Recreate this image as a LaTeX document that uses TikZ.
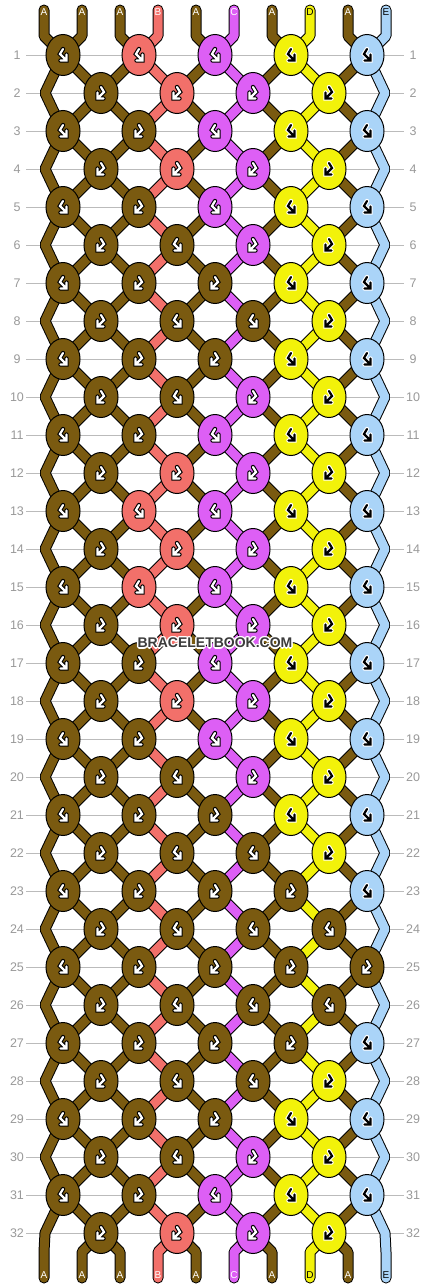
\documentclass[tikz,border=0pt]{standalone}
\usepackage{fontspec}
\setmainfont{Liberation Sans}
\usetikzlibrary{shapes.geometric,calc}
\definecolor{cA}{HTML}{7A5A10}
\definecolor{cB}{HTML}{F2706A}
\definecolor{cC}{HTML}{DD5FF5}
\definecolor{cD}{HTML}{F2F20A}
\definecolor{cE}{HTML}{AAD4F8}
\colorlet{fA}{white}\colorlet{fB}{white}\colorlet{fC}{white}\colorlet{fD}{black}\colorlet{fE}{black}
\colorlet{gA}{black}\colorlet{gB}{black}\colorlet{gC}{black}\colorlet{gD}{white}\colorlet{gE}{white}
\definecolor{gridgray}{HTML}{BBBBBB}
\definecolor{labgray}{HTML}{999999}
\definecolor{wmgray}{HTML}{3C3C3C}
\newcommand\knotrow[2]{%
  \ifodd#1\relax\def\xs{63}\else\def\xs{101}\fi
  \foreach \kc/\kt [count=\k] in {#2} {
    \pgfmathsetmacro\xx{\xs+76*(\k-1)}
    \pgfmathsetmacro\yy{17+38*#1}
    \node[knot, fill=c\kc] (k#1-\k) at (\xx,\yy) {};
    \begin{scope}[shift={(k#1-\k.center)}]
      \if L\kt
        \draw[glbg, draw=g\kc] (0,-6)--(-3,-1)--(3.5,5.5) (-2.5,5.5)--(3.5,5.5)--(3.5,-0.5);
        \draw[glfg, draw=f\kc] (0,-6)--(-3,-1)--(3.5,5.5) (-2.5,5.5)--(3.5,5.5)--(3.5,-0.5);
      \else
        \draw[glbg, draw=g\kc] (0,-6)--(3,-1)--(-3.5,5.5) (2.5,5.5)--(-3.5,5.5)--(-3.5,-0.5);
        \draw[glfg, draw=f\kc] (0,-6)--(3,-1)--(-3.5,5.5) (2.5,5.5)--(-3.5,5.5)--(-3.5,-0.5);
      \fi
    \end{scope}
  }}
\begin{document}
\begin{tikzpicture}[x=1pt,y=-1pt,
  knot/.style={ellipse, draw=black, line width=1pt, minimum width=34pt, minimum height=41pt, inner sep=0pt},
  strout/.style={line width=11pt, draw=black, line join=bevel, line cap=round},
  strin/.style={line width=9pt, line join=bevel, line cap=round},
  glbg/.style={line width=4.4pt, line join=miter, line cap=round},
  glfg/.style={line width=2.2pt, line join=miter, line cap=round},
  rowlab/.style={text=labgray, font=\fontsize{12.5}{14}\selectfont, inner sep=0pt},
  toplab/.style={font=\fontsize{10}{11}\selectfont, inner sep=0pt},
  wm/.style={font=\fontsize{14}{16}\selectfont\bfseries, inner sep=0pt}]
\useasboundingbox (0,0) rectangle (430,1288);
\fill[white] (0,0) rectangle (430,1288);
% grid lines and row labels
\foreach \r in {1,...,32} {
  \coordinate (gl\r) at (26,{17+38*\r});
  \coordinate (gr\r) at (404,{17+38*\r});
  \draw[gridgray, line width=1pt] (gl\r) -- (gr\r);
  \node[rowlab] (ll\r) at (17,{17+38*\r}) {\r};
  \node[rowlab] (rl\r) at (413,{17+38*\r}) {\r};
}
% string coordinates
\foreach \i/\xa/\xb/\xo in {1/63/45/44, 2/63/101/82, 3/139/101/120, 4/139/177/158, 5/215/177/196, 6/215/253/234, 7/291/253/272, 8/291/329/310, 9/367/329/348, 10/367/385/386} {
  \coordinate (top\i) at (\xo,10);
  \coordinate (tb\i) at (\xo,36);
  \coordinate (bb\i) at (\xo,1252);
  \coordinate (bot\i) at (\xo,1278);
  \foreach \r in {1,3,...,31} {
    \coordinate (s\i-\r) at (\xa,{17+38*\r});
    \pgfmathtruncatemacro\rn{\r+1}
    \coordinate (s\i-\rn) at (\xb,{17+38*(\r+1)});
  }
}
\foreach \i in {1,...,10} {
  \draw[strout] (top\i) -- (tb\i) \foreach \r in {1,...,32} { -- (s\i-\r) } -- (bb\i) -- (bot\i);
}
\foreach \i/\col in {1/A,2/A,3/A,4/B,5/A,6/C,7/A,8/D,9/A,10/E} {
  \draw[strin, draw=c\col] (top\i) -- (tb\i) \foreach \r in {1,...,32} { -- (s\i-\r) } -- (bb\i) -- (bot\i);
  \node[toplab, text=f\col] (tl\i) at ($(top\i)+(0,2.5)$) {\col};
  \node[toplab, text=f\col] (bl\i) at ($(bot\i)+(0,-3)$) {\col};
}
% knots
\knotrow{1}{A/L,B/L,C/L,D/L,E/L}
\knotrow{2}{A/R,B/R,C/R,D/R}
\knotrow{3}{A/L,A/R,C/L,D/L,E/L}
\knotrow{4}{A/R,B/R,C/R,D/R}
\knotrow{5}{A/L,A/R,C/L,D/L,E/L}
\knotrow{6}{A/R,A/L,C/R,D/R}
\knotrow{7}{A/L,A/R,A/R,D/L,E/L}
\knotrow{8}{A/R,A/L,A/L,D/R}
\knotrow{9}{A/L,A/R,A/R,D/L,E/L}
\knotrow{10}{A/R,A/L,C/R,D/R}
\knotrow{11}{A/L,A/R,C/L,D/L,E/L}
\knotrow{12}{A/R,B/R,C/R,D/R}
\knotrow{13}{A/L,B/L,C/L,D/L,E/L}
\knotrow{14}{A/R,B/R,C/R,D/R}
\knotrow{15}{A/L,B/L,C/L,D/L,E/L}
\knotrow{16}{A/R,B/R,C/R,D/R}
\knotrow{17}{A/L,A/R,C/L,D/L,E/L}
\knotrow{18}{A/R,B/R,C/R,D/R}
\knotrow{19}{A/L,A/R,C/L,D/L,E/L}
\knotrow{20}{A/R,A/L,C/R,D/R}
\knotrow{21}{A/L,A/R,A/R,D/L,E/L}
\knotrow{22}{A/R,A/L,A/L,D/R}
\knotrow{23}{A/L,A/R,A/R,A/R,E/L}
\knotrow{24}{A/R,A/L,A/L,A/L}
\knotrow{25}{A/L,A/R,A/R,A/R,A/R}
\knotrow{26}{A/R,A/L,A/L,A/L}
\knotrow{27}{A/L,A/R,A/R,A/R,E/L}
\knotrow{28}{A/R,A/L,A/L,D/R}
\knotrow{29}{A/L,A/R,A/R,D/L,E/L}
\knotrow{30}{A/R,A/L,C/R,D/R}
\knotrow{31}{A/L,A/R,C/L,D/L,E/L}
\knotrow{32}{A/R,B/R,C/R,D/R}
% watermark
\foreach \dx/\dy [count=\n] in {-1/-1,0/-1,1/-1,-1/0,1/0,-1/1,0/1,1/1,-1.5/0,1.5/0,0/-1.5,0/1.5} {
  \node[wm, text=white] (wmh\n) at (215+\dx,643+\dy) {BRACELETBOOK.COM};
}
\node[wm, text=wmgray] (wm) at (215,643) {BRACELETBOOK.COM};
\end{tikzpicture}
\end{document}
